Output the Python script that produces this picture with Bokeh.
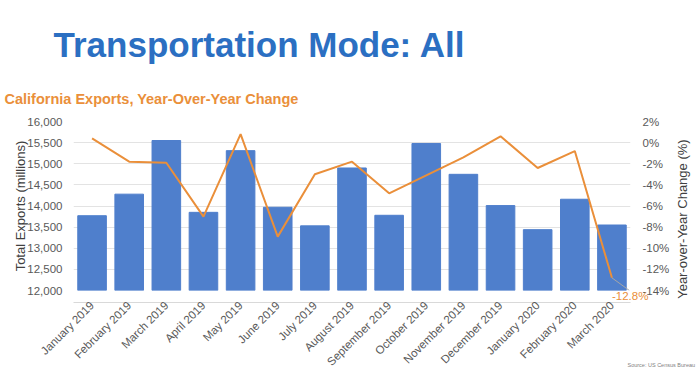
import math
from bokeh.plotting import figure
from bokeh.models import (Range1d, LinearAxis, FixedTicker, NumeralTickFormatter,
                          PrintfTickFormatter, Label, Title)
from bokeh.embed import file_html
from bokeh.resources import INLINE

# ---- data ----
months = ["January 2019", "February 2019", "March 2019", "April 2019", "May 2019",
          "June 2019", "July 2019", "August 2019", "September 2019", "October 2019",
          "November 2019", "December 2019", "January 2020", "February 2020", "March 2020"]
exports = [13770, 14280, 15550, 13850, 15310, 13970, 13530, 14900, 13780, 15480,
           14750, 14010, 13440, 14160, 13550]
yoy = [0.4, -1.8, -1.9, -7.0, 0.8, -8.9, -3.0, -1.8, -4.8, -3.1, -1.4, 0.6, -2.4, -0.8, -12.8]
left_ticks = [12000, 12500, 13000, 13500, 14000, 14500, 15000, 15500, 16000]
right_ticks = [-14, -12, -10, -8, -6, -4, -2, 0, 2]

idx = list(range(len(months)))
y_lo, y_hi = left_ticks[0], left_ticks[-1]
p_lo, p_hi = right_ticks[0], right_ticks[-1]

BLUE = "#4F7FCC"
ORANGE = "#EA8F3A"
GRID = "#E3E3E3"
TXT = "#595959"

p = figure(width=700, height=381, output_backend="svg", toolbar_location=None,
           x_range=Range1d(-0.5, len(months) - 0.5), y_range=Range1d(y_lo, y_hi),
           min_border_left=73, min_border_right=70, min_border_top=121, min_border_bottom=91)
p.outline_line_color = None
p.background_fill_color = "white"
p.border_fill_color = "white"
p.extra_y_ranges = {"pct": Range1d(p_lo, p_hi)}

p.vbar(x=idx, top=exports, bottom=y_lo, width=0.77, fill_color=BLUE, line_color=BLUE)
p.line(idx, yoy, y_range_name="pct", line_color=ORANGE, line_width=2)
p.segment(x0=[idx[-1]], y0=[yoy[-1]], x1=[idx[-1] + 0.47], y1=[p_lo], y_range_name="pct",
          line_color="#A6A6A6", line_width=1)

# axes
xa = p.xaxis[0]
xa.ticker = FixedTicker(ticks=idx)
xa.major_label_overrides = {i: m for i, m in zip(idx, months)}
xa.major_label_orientation = math.pi / 4
xa.major_label_text_font_size = "11.5px"
xa.major_label_text_color = TXT
xa.major_label_standoff = 1
xa.axis_line_color = "#D9D9D9"
xa.major_tick_line_color = None
xa.minor_tick_line_color = None
xa.major_tick_out = 0
xa.major_tick_in = 0
xa.minor_tick_out = 0

ya = p.yaxis[0]
ya.ticker = FixedTicker(ticks=left_ticks)
ya.formatter = NumeralTickFormatter(format="0,0")
ya.major_label_text_font_size = "11.5px"
ya.major_label_text_color = TXT
ya.major_label_standoff = 11
ya.axis_line_color = None
ya.major_tick_line_color = None
ya.minor_tick_line_color = None
ya.major_tick_out = 0
ya.major_tick_in = 0
ya.minor_tick_out = 0
ya.axis_label = "Total Exports (millions)"
ya.axis_label_text_font_size = "13px"
ya.axis_label_text_font_style = "normal"
ya.axis_label_text_color = "#404040"
ya.axis_label_standoff = -4

ra = LinearAxis(y_range_name="pct", ticker=FixedTicker(ticks=right_ticks),
                formatter=PrintfTickFormatter(format="%d%%"))
ra.major_label_text_font_size = "11.5px"
ra.major_label_text_color = TXT
ra.major_label_standoff = 12
ra.axis_line_color = None
ra.major_tick_line_color = None
ra.minor_tick_line_color = None
ra.major_tick_out = 0
ra.major_tick_in = 0
ra.minor_tick_out = 0
p.add_layout(ra, "right")

# right axis title, reading bottom to top (placed in the right side panel)
ra_title = Label(x=15.9, y=13690, text="Year-over-Year Change (%)", angle=math.pi / 2,
                 text_font_size="13px", text_color="#404040",
                 text_align="center", text_baseline="middle")
p.add_layout(ra_title, "right")

p.xgrid.grid_line_color = None
p.ygrid.grid_line_color = GRID

# titles (side panels, so they are not clipped)
p.add_layout(Title(text="California Exports, Year-Over-Year Change", align="left",
                   offset=-69, text_font_size="14.5px", text_font_style="bold",
                   text_color=ORANGE, standoff=29), "above")
p.add_layout(Title(text="Transportation Mode: All", align="left", offset=-20,
                   text_font_size="35px", text_font_style="bold",
                   text_color="#2B6FC2", standoff=21), "above")

# data label and source note in the bottom panel stack
pct_lbl = Label(x=idx[-1], y=yoy[-1], y_range_name="pct", text=f"{yoy[-1]}%",
                y_offset=-12, text_baseline="top", text_align="left",
                text_font_size="11.5px", text_color=ORANGE)
src_lbl = Label(x=554, x_units="screen", y=10240, y_units="data",
                text="Source: US Census Bureau", text_font_size="5.5px",
                text_color="#7F7F7F", text_baseline="middle")
p.below = [pct_lbl] + list(p.below) + [src_lbl]

open("out.html", "w").write(file_html(p, INLINE))
